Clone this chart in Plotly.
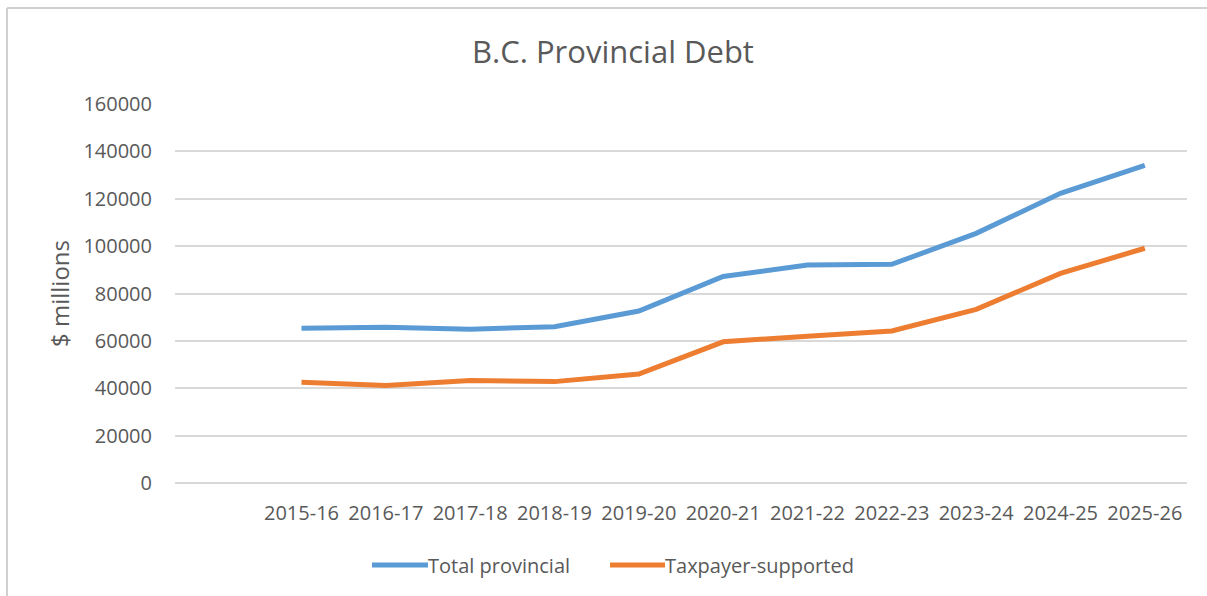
import plotly.graph_objects as go

years = ["2015-16", "2016-17", "2017-18", "2018-19", "2019-20", "2020-21",
         "2021-22", "2022-23", "2023-24", "2024-25", "2025-26"]
total_provincial = [65300, 65700, 64900, 66000, 72600, 87200,
                    92000, 92300, 105400, 122300, 134100]
taxpayer_supported = [42500, 41200, 43300, 42800, 46000, 59600,
                      62000, 64200, 73300, 88500, 99100]
y_ticks = [0, 20000, 40000, 60000, 80000, 100000, 120000, 140000, 160000]
series_names = ["Total provincial", "Taxpayer-supported"]

BLUE = "#5B9BD5"
ORANGE = "#ED7D31"
TEXT = "#595959"
FONT = "Open Sans"

categories = [" "] + years  # leading blank category as in the original

fig = go.Figure()
fig.add_trace(go.Scatter(x=years, y=total_provincial, name=series_names[0],
                         mode="lines", line=dict(color=BLUE, width=5)))
fig.add_trace(go.Scatter(x=years, y=taxpayer_supported, name=series_names[1],
                         mode="lines", line=dict(color=ORANGE, width=5)))

L, R, T, B = 175, 20, 104, 113
W, H = 1207, 596
pw, ph = W - L - R, H - T - B

def px_x(p):
    return (p - L) / pw

def px_y(p):
    return (H - B - p) / ph

fig.update_layout(
    width=W, height=H,
    margin=dict(l=L, r=R, t=T, b=B),
    paper_bgcolor="white", plot_bgcolor="white",
    font=dict(family=FONT, color=TEXT, size=20),
    title=dict(text="B.C. Provincial Debt", x=613 / W, xanchor="center",
               y=1 - 52 / H, yanchor="middle",
               font=dict(family=FONT, size=31, color=TEXT)),
    xaxis=dict(type="category", categoryorder="array", categoryarray=categories,
               range=[-0.5, len(categories) - 0.5], showgrid=False,
               showline=False, zeroline=False, tickangle=0,
               tickfont=dict(size=20, color=TEXT), ticklabelstandoff=16),
    yaxis=dict(range=[0, 160000], tickvals=y_ticks, ticktext=[str(v) for v in y_ticks],
               showgrid=True, gridcolor="#D9D9D9", gridwidth=1.5,
               zeroline=True, zerolinecolor="#D9D9D9", zerolinewidth=1.5,
               showline=False, tickfont=dict(size=20, color=TEXT),
               ticklabelstandoff=22,
               title=dict(text="$ millions", font=dict(size=24, color=TEXT), standoff=6)),
    showlegend=False,
)

# manual legend (longer line samples as in the original)
legend_items = [(series_names[0], BLUE, 372, 428), (series_names[1], ORANGE, 610, 665)]
for name, color, x0, x1 in legend_items:
    fig.add_shape(type="line", xref="paper", yref="paper",
                  x0=px_x(x0), x1=px_x(x1), y0=px_y(565), y1=px_y(565),
                  line=dict(color=color, width=5))
    fig.add_annotation(text=name, xref="paper", yref="paper",
                       x=px_x(x1), y=px_y(565), xanchor="left", yanchor="middle",
                       showarrow=False, xshift=-2,
                       font=dict(family=FONT, size=20, color=TEXT))

# chart-area border (top and left edges visible in the original)
fig.add_shape(type="line", xref="paper", yref="paper",
              x0=px_x(7), x1=px_x(1207), y0=px_y(8), y1=px_y(8),
              line=dict(color="#D0D0D0", width=2))
fig.add_shape(type="line", xref="paper", yref="paper",
              x0=px_x(7), x1=px_x(7), y0=px_y(8), y1=px_y(596),
              line=dict(color="#D0D0D0", width=2))

fig.write_html("out.html")
